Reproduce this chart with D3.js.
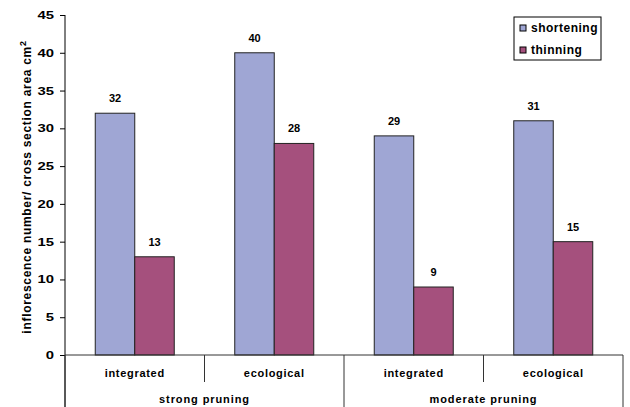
<!DOCTYPE html>
<html><head><meta charset="utf-8">
<script src="https://cdn.jsdelivr.net/npm/d3@7"></script>
<style>body{margin:0;background:#fff}text{font-family:Arial,"Liberation Sans",sans-serif;font-weight:bold;fill:#000}</style>
</head><body><svg id="c" width="630" height="407"></svg>
<script>
const groups = ["strong pruning", "moderate pruning"];
const categories = ["integrated", "ecological", "integrated", "ecological"];
const seriesNames = ["shortening", "thinning"];
const shortening = [32, 40, 29, 31];
const thinning = [13, 28, 9, 15];
const yTicks = [0, 5, 10, 15, 20, 25, 30, 35, 40, 45];
const colors = ["#9FA6D4", "#A5507D"];

const svg = d3.select("#c");
const L = 65, R = 623, T = 15, B = 355;
const x = d3.scaleBand().domain(d3.range(categories.length)).range([L, R]);
const y = d3.scaleLinear().domain([0, 45]).range([B, T]);
const bw = 39.5;

// y axis
const ya = svg.append("g").attr("transform", `translate(${L},0)`)
  .call(d3.axisLeft(y).tickValues(yTicks).tickSize(5).tickPadding(4));
ya.select(".domain").attr("d", `M0,${T}V407`).attr("stroke", "#000");
ya.selectAll(".tick line").attr("stroke", "#000");
const sx = 1.35;
ya.selectAll(".tick text").attr("font-size", 11).attr("font-family", "Arial").attr("font-weight", "bold")
  .attr("x", -11 / sx).attr("transform", `scale(${sx},1)`);

// bars
const series = [shortening, thinning];
series.forEach((vals, si) => {
  svg.append("g").selectAll("rect").data(vals).join("rect")
    .attr("x", (d, i) => x(i) + x.bandwidth() / 2 - bw + si * bw)
    .attr("y", d => y(d))
    .attr("width", bw)
    .attr("height", d => y(0) - y(d))
    .attr("fill", colors[si]).attr("stroke", "#222").attr("stroke-width", 1);
  svg.append("g").selectAll("text").data(vals).join("text")
    .attr("x", (d, i) => x(i) + x.bandwidth() / 2 - bw / 2 + si * bw)
    .attr("y", d => y(d) - 11)
    .attr("text-anchor", "middle").attr("font-size", 11)
    .text(d => d);
});

// x axis baseline
svg.append("line").attr("x1", L).attr("x2", R).attr("y1", B).attr("y2", B).attr("stroke", "#333");
// category dividers
const xg = svg.append("g");
for (let i = 0; i <= categories.length; i++) {
  const xx = i < categories.length ? x(i) : R;
  const full = (i % 2 === 0);
  xg.append("line").attr("x1", xx).attr("x2", xx).attr("y1", B).attr("y2", full ? 407 : 382)
    .attr("stroke", "#333");
}
categories.forEach((c, i) => {
  svg.append("text").attr("x", x(i) + x.bandwidth() / 2).attr("y", 377)
    .attr("text-anchor", "middle").attr("font-size", 11).attr("letter-spacing", 0.7).text(c);
});
groups.forEach((g, gi) => {
  svg.append("text").attr("x", (x(gi * 2) + x(gi * 2 + 1) + x.bandwidth()) / 2).attr("y", 403)
    .attr("text-anchor", "middle").attr("font-size", 11).attr("letter-spacing", 0.9).text(g);
});

// y label
const yl = svg.append("text").attr("transform", `translate(31,${(B + T) / 2 + 2}) rotate(-90)`)
  .attr("text-anchor", "middle").attr("font-size", 12).attr("letter-spacing", 0.7);
yl.append("tspan").text("inflorescence number/ cross section area cm");
yl.append("tspan").attr("dy", -5).attr("font-size", 9).text("2");

// legend
const lg = svg.append("g");
lg.append("rect").attr("x", 514).attr("y", 17).attr("width", 87).attr("height", 43)
  .attr("fill", "#fff").attr("stroke", "#000");
seriesNames.forEach((n, i) => {
  lg.append("rect").attr("x", 520).attr("y", 25 + i * 22).attr("width", 6).attr("height", 6)
    .attr("fill", colors[i]).attr("stroke", "#000");
  lg.append("text").attr("x", 531).attr("y", 32 + i * 22).attr("font-size", 12).attr("letter-spacing", 0.5).text(n);
});
</script></body></html>
